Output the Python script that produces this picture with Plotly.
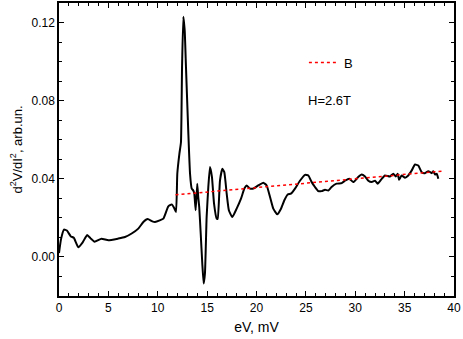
import plotly.graph_objects as go

# Measured curve (eV in mV, d2V/dI2 in arb. units)
ev = [0.0, 0.2, 0.5, 0.8, 1.2, 1.5, 1.95, 2.4, 2.85, 3.2, 3.6, 4.3, 5.0, 6.0, 6.68, 7.36,
      8.03, 8.54, 8.98, 9.45, 9.72, 10.2, 10.57, 11.07, 11.41, 11.65, 11.85, 11.98, 12.19,
      12.35, 12.46, 12.59, 12.73, 12.86, 13.1, 13.27, 13.44, 13.6, 13.7, 13.84, 14.0, 14.1,
      14.2, 14.35, 14.51, 14.65, 14.78, 14.95, 15.12, 15.29, 15.49, 15.7, 15.97, 16.07,
      16.3, 16.54, 16.74, 16.98, 17.2, 17.55, 17.99, 18.43, 18.77, 19.0, 19.34, 19.68,
      20.18, 20.69, 21.03, 21.37, 21.7, 22.1, 22.48, 22.82, 23.16, 23.49, 23.9, 24.4,
      24.91, 25.25, 25.59, 25.92, 26.26, 26.6, 26.94, 27.27, 27.6, 28.1, 28.63, 28.96,
      29.4, 29.8, 30.3, 30.65, 30.99, 31.32, 31.67, 32.0, 32.27, 32.68, 33.01, 33.52,
      33.85, 34.1, 34.3, 34.43, 34.7, 35.04, 35.37, 35.72, 36.05, 36.38, 36.73, 37.06,
      37.4, 37.74, 37.9, 38.08, 38.25, 38.41]
d2v = [0.002, 0.009, 0.014, 0.0135, 0.0105, 0.0098, 0.005, 0.0075, 0.0112, 0.0095, 0.0078,
       0.0093, 0.0085, 0.0094, 0.0102, 0.012, 0.0145, 0.0179, 0.0194, 0.0182, 0.0179, 0.0187,
       0.0196, 0.0259, 0.0269, 0.0252, 0.023, 0.0426, 0.0528, 0.0587, 0.097, 0.123, 0.1158,
       0.097, 0.063, 0.0426, 0.035, 0.034, 0.0324, 0.0239, 0.0375, 0.0307, 0.0255, 0.012,
       -0.0034, -0.0136, -0.0085, 0.0204, 0.0358, 0.046, 0.0409, 0.0273, 0.0196, 0.0196,
       0.039, 0.0451, 0.0434, 0.0324, 0.0239, 0.0204, 0.0247, 0.0298, 0.035, 0.0366, 0.035,
       0.035, 0.0366, 0.038, 0.0366, 0.0307, 0.0247, 0.0218, 0.0247, 0.029, 0.032, 0.0324,
       0.035, 0.039, 0.042, 0.0417, 0.0383, 0.0358, 0.0337, 0.0337, 0.0344, 0.034, 0.0358,
       0.0375, 0.0378, 0.039, 0.04, 0.0383, 0.0409, 0.0422, 0.0412, 0.039, 0.0383, 0.039,
       0.0375, 0.04, 0.0417, 0.0412, 0.0426, 0.0412, 0.0426, 0.0395, 0.0417, 0.0406, 0.0417,
       0.0443, 0.0473, 0.0468, 0.0434, 0.0429, 0.0439, 0.0429, 0.0439, 0.0422, 0.0426, 0.04]

# Linear background "B"
b_x = [11.8, 38.9]
b_y = [0.0318, 0.0440]

x_ticks = [0, 5, 10, 15, 20, 25, 30, 35, 40]
y_ticks = [0.00, 0.04, 0.08, 0.12]
y_tick_labels = ["0.00", "0.04", "0.08", "0.12"]

font = "Liberation Sans, Arial, sans-serif"

fig = go.Figure()
fig.add_trace(go.Scatter(x=ev, y=d2v, mode="lines", showlegend=False,
                         line=dict(color="black", width=2, shape="spline", smoothing=0.4)))
fig.add_trace(go.Scatter(x=b_x, y=b_y, mode="lines", name="B",
                         line=dict(color="red", width=1.5, dash="dot")))

axis_common = dict(showline=True, linecolor="black", linewidth=1.5, mirror="allticks",
                   ticks="inside", ticklen=5, tickwidth=1, tickcolor="black",
                   showgrid=False, zeroline=False, automargin=False,
                   tickfont=dict(family=font, size=12, color="black"))

fig.update_xaxes(range=[0, 40], tickvals=x_ticks,
                 minor=dict(ticks="inside", ticklen=3, dtick=1, tickcolor="black", showgrid=False),
                 title=dict(text="eV, mV", font=dict(family=font, size=14, color="black"), standoff=8),
                 **axis_common)
fig.update_yaxes(range=[-0.02, 0.13], tickvals=y_ticks, ticktext=y_tick_labels,
                 minor=dict(ticks="inside", ticklen=3, dtick=0.01, tick0=0, tickcolor="black", showgrid=False),
                 title=dict(text="d<sup>2</sup>V/dI<sup>2</sup>, arb.un.",
                            font=dict(family=font, size=13, color="black"), standoff=6),
                 **axis_common)

fig.add_annotation(x=25.0, y=0.08, xref="x", yref="y", text="H=2.6T", showarrow=False,
                   xanchor="left", yanchor="middle", font=dict(family=font, size=13, color="black"))

fig.update_layout(
    width=463, height=339,
    margin=dict(l=59, r=9, t=3, b=43, autoexpand=False),
    plot_bgcolor="white", paper_bgcolor="white",
    legend=dict(x=0.62, y=0.797, xanchor="left", yanchor="middle", bgcolor="rgba(0,0,0,0)",
                font=dict(family=font, size=13, color="black"), itemwidth=30),
)

fig.write_html("out.html", config={"displayModeBar": False},
               post_script="document.body.style.margin='0';document.body.style.overflow='hidden';")
